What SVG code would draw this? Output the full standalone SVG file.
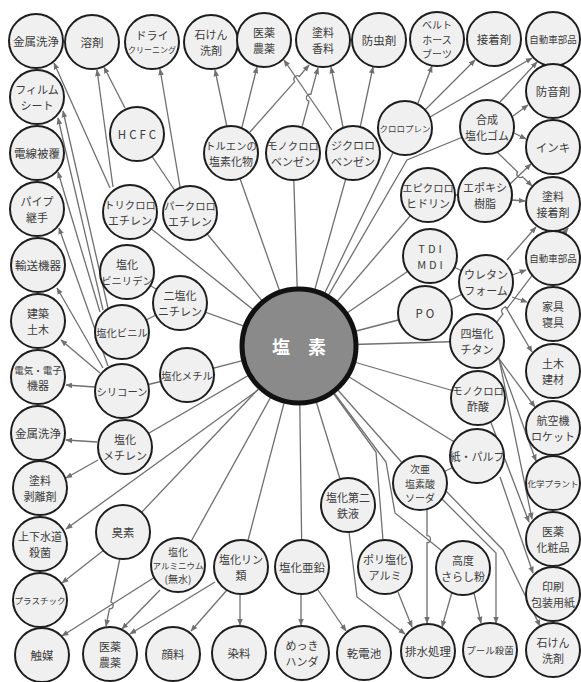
<svg xmlns="http://www.w3.org/2000/svg" width="581" height="682" viewBox="0 0 581 682">
<style>
.n circle{fill:#f0f0f0;stroke:#1e1e1e;stroke-width:2}
.n text{font-family:"Noto Sans CJK JP","Noto Sans",sans-serif;font-size:11px;fill:#3c3c3c;text-anchor:middle;dominant-baseline:central}
.n text.s1{font-size:11.5px}
.n text.s105{font-size:10.3px}
.n text.s3{font-size:10px}
.n text.s9{font-size:9.5px}
.n text.s85{font-size:8.5px}
.n text.s8{font-size:8px}
.n text.sp{letter-spacing:3px}
.c line,.c path{stroke:#707070;stroke-width:1.3;fill:none}
.a{marker-end:url(#ah)}
</style>
<defs>
<marker id="ah" viewBox="0 0 10 10" refX="9" refY="5" markerWidth="7" markerHeight="7" markerUnits="userSpaceOnUse" orient="auto"><path d="M0,1 L10,5 L0,9 z" fill="#707070"/></marker>
</defs>
<rect width="581" height="682" fill="#fff"/>
<g id="connectors" class="c">
<line x1="299" y1="346" x2="130" y2="212"/>
<line x1="299" y1="346" x2="190" y2="213"/>
<line x1="299" y1="346" x2="231" y2="153"/>
<line x1="299" y1="346" x2="293" y2="153"/>
<line x1="299" y1="346" x2="353" y2="153"/>
<line x1="299" y1="346" x2="405" y2="128"/>
<path d="M299,346 L407,160 L487,127"/>
<line x1="299" y1="346" x2="428" y2="195"/>
<line x1="299" y1="346" x2="430" y2="256"/>
<line x1="299" y1="346" x2="425" y2="313"/>
<line x1="299" y1="346" x2="477" y2="341"/>
<line x1="299" y1="346" x2="478" y2="398"/>
<line x1="299" y1="346" x2="477" y2="456"/>
<line x1="299" y1="346" x2="420" y2="483"/>
<path d="M299,346 L386,462 L395,513 L463,568"/>
<path d="M299,346 L376,452 L383,540 L385,567"/>
<line x1="299" y1="346" x2="348" y2="505"/>
<line x1="299" y1="346" x2="302" y2="567"/>
<line x1="299" y1="346" x2="241" y2="567"/>
<line x1="299" y1="346" x2="178" y2="565"/>
<line x1="299" y1="346" x2="123" y2="532"/>
<line x1="299" y1="346" x2="125" y2="447"/>
<line x1="299" y1="346" x2="187" y2="375"/>
<line x1="299" y1="346" x2="180" y2="303"/>
<line x1="137" y1="134" x2="190" y2="213"/>
<line x1="187" y1="375" x2="122" y2="391"/>
<line x1="122" y1="332" x2="180" y2="303"/>
<line x1="127" y1="272" x2="180" y2="303"/>
<line x1="430" y1="256" x2="486" y2="282"/>
<line x1="425" y1="313" x2="486" y2="282"/>
<line x1="420" y1="483" x2="477" y2="456"/>
<line x1="428" y1="195" x2="485" y2="195"/>
<line class="a" x1="110" y1="188" x2="54" y2="63"/>
<line class="a" x1="113" y1="187" x2="97" y2="70"/>
<line class="a" x1="125" y1="108" x2="104" y2="67"/>
<line class="a" x1="180" y1="187" x2="160" y2="69"/>
<line class="a" x1="227" y1="127" x2="215" y2="70"/>
<line class="a" x1="242" y1="127" x2="257" y2="67"/>
<path class="a" d="M250,132 L294.7,81.6 A3.5,3.5 0 0 1 299.3,76.4 L309,65"/>
<path class="a" d="M302,127 L309,101.2 A3.5,3.5 0 0 1 310.8,94.4 L318,68"/>
<line class="a" x1="332" y1="130" x2="284" y2="60"/>
<line class="a" x1="343" y1="127" x2="331" y2="67"/>
<line class="a" x1="360" y1="128" x2="373" y2="67"/>
<line class="a" x1="418" y1="103" x2="432" y2="66"/>
<line class="a" x1="425" y1="110" x2="475" y2="60"/>
<line class="a" x1="430" y1="117" x2="532" y2="58"/>
<line class="a" x1="500" y1="102" x2="537" y2="62"/>
<line class="a" x1="513" y1="116" x2="528" y2="105"/>
<line class="a" x1="514" y1="133" x2="526" y2="139"/>
<path class="a" d="M497,152 L517.6,172 A3.5,3.5 0 0 0 522.6,176.8 L532,186"/>
<line class="a" x1="510" y1="184" x2="531" y2="164"/>
<line class="a" x1="512" y1="200" x2="525" y2="201"/>
<line class="a" x1="507" y1="260" x2="536" y2="227"/>
<line class="a" x1="512" y1="275" x2="526" y2="270"/>
<line class="a" x1="512" y1="297" x2="527" y2="302"/>
<line class="a" x1="505" y1="306" x2="532" y2="352"/>
<path class="a" d="M487,335 L503,313.9 A3.5,3.5 0 0 1 507.2,308.3 L568,228"/>
<line class="a" x1="494" y1="352" x2="535" y2="407"/>
<line class="a" x1="495" y1="348" x2="536" y2="461"/>
<line class="a" x1="497" y1="349" x2="532" y2="519"/>
<line class="a" x1="490" y1="420" x2="529" y2="522"/>
<line class="a" x1="500" y1="477" x2="533" y2="573"/>
<path class="a" d="M427,509 L427,535.7 A3.5,3.5 0 0 1 427,542.7 L427,623"/>
<path class="a" d="M440,497 L496,553 L496,623"/>
<path class="a" d="M446,491 L503,550 L540,626"/>
<line class="a" x1="452" y1="592" x2="442" y2="627"/>
<line class="a" x1="474" y1="593" x2="481" y2="623"/>
<line class="a" x1="398" y1="592" x2="412" y2="627"/>
<path class="a" d="M349,532 L357,597 L405,634"/>
<line class="a" x1="301" y1="595" x2="301" y2="625"/>
<line class="a" x1="318" y1="590" x2="346" y2="631"/>
<line class="a" x1="240" y1="595" x2="240" y2="625"/>
<line class="a" x1="227" y1="590" x2="191" y2="631"/>
<line class="a" x1="215" y1="582" x2="130" y2="634"/>
<line class="a" x1="160" y1="590" x2="122" y2="629"/>
<line class="a" x1="155" y1="577" x2="62" y2="636"/>
<path class="a" d="M120,558 L110.9,602 A3.5,3.5 0 0 1 109.5,608.8 L106,626"/>
<line class="a" x1="104" y1="550" x2="62" y2="583"/>
<line class="a" x1="258" y1="390" x2="66" y2="529"/>
<line class="a" x1="97" y1="442" x2="66" y2="440"/>
<line class="a" x1="98" y1="460" x2="66" y2="478"/>
<line class="a" x1="95" y1="387" x2="66" y2="385"/>
<line class="a" x1="100" y1="373" x2="61" y2="340"/>
<line class="a" x1="103" y1="368" x2="57" y2="288"/>
<line class="a" x1="108" y1="366" x2="59" y2="228"/>
<line class="a" x1="100" y1="312" x2="58" y2="172"/>
<line class="a" x1="103" y1="310" x2="58" y2="118"/>
<line class="a" x1="108" y1="308" x2="63" y2="111"/>
</g>
<g id="nodes">
<g id="n-kinzoku1" class="n"><circle cx="36" cy="41" r="27"/><text class="s1" x="36" y="41">金属洗浄</text></g>
<g id="n-youzai" class="n"><circle cx="92" cy="42" r="27"/><text class="s1" x="92" y="42">溶剤</text></g>
<g id="n-dry" class="n"><circle cx="152" cy="42" r="27"/><text x="152" y="34.5">ドライ</text><text class="s8" x="152" y="49.5">クリーニング</text></g>
<g id="n-sekken1" class="n"><circle cx="211" cy="42" r="27"/><text x="211" y="34">石けん</text><text x="211" y="50">洗剤</text></g>
<g id="n-iyaku1" class="n"><circle cx="264" cy="40" r="27"/><text x="264" y="32">医薬</text><text x="264" y="48">農薬</text></g>
<g id="n-toryo1" class="n"><circle cx="323" cy="40" r="27"/><text x="323" y="32">塗料</text><text x="323" y="48">香料</text></g>
<g id="n-bouchu" class="n"><circle cx="379" cy="40" r="27"/><text class="s1" x="379" y="40">防虫剤</text></g>
<g id="n-belt" class="n"><circle cx="437" cy="39" r="27"/><text class="s3" x="437" y="24.5">ベルト</text><text class="s3" x="437" y="39">ホース</text><text class="s3" x="437" y="53.5">ブーツ</text></g>
<g id="n-setchaku" class="n"><circle cx="494" cy="39" r="27"/><text class="s1" x="494" y="39">接着剤</text></g>
<g id="n-jidousha1" class="n"><circle cx="553" cy="39" r="27"/><text class="s9" x="553" y="39">自動車部品</text></g>
<g id="n-boon" class="n"><circle cx="553" cy="91" r="27"/><text class="s1" x="553" y="91">防音剤</text></g>
<g id="n-inki" class="n"><circle cx="553" cy="147" r="27"/><text class="s1" x="553" y="147">インキ</text></g>
<g id="n-toryo2" class="n"><circle cx="553" cy="204" r="27"/><text x="553" y="196">塗料</text><text x="553" y="212">接着剤</text></g>
<g id="n-jidousha2" class="n"><circle cx="553" cy="258" r="27"/><text class="s9" x="553" y="258">自動車部品</text></g>
<g id="n-kagu" class="n"><circle cx="553" cy="314" r="27"/><text x="553" y="306">家具</text><text x="553" y="322">寝具</text></g>
<g id="n-doboku2" class="n"><circle cx="553" cy="371" r="27"/><text x="553" y="363">土木</text><text x="553" y="379">建材</text></g>
<g id="n-koukuu" class="n"><circle cx="553" cy="428" r="27"/><text x="553" y="420">航空機</text><text x="553" y="436">ロケット</text></g>
<g id="n-kagaku" class="n"><circle cx="553" cy="483" r="27"/><text class="s85" x="553" y="483">化学プラント</text></g>
<g id="n-iyaku2" class="n"><circle cx="553" cy="539" r="27"/><text x="553" y="531">医薬</text><text x="553" y="547">化粧品</text></g>
<g id="n-insatsu" class="n"><circle cx="553" cy="594" r="27"/><text x="553" y="586">印刷</text><text x="553" y="602">包装用紙</text></g>
<g id="n-sekken2" class="n"><circle cx="553" cy="650" r="27"/><text x="553" y="642">石けん</text><text x="553" y="658">洗剤</text></g>
<g id="n-pool" class="n"><circle cx="490" cy="650" r="27"/><text class="s9" x="490" y="650">プール殺菌</text></g>
<g id="n-haisui" class="n"><circle cx="428" cy="651" r="27"/><text class="s1" x="428" y="651">排水処理</text></g>
<g id="n-kandenchi" class="n"><circle cx="364" cy="653" r="27"/><text class="s1" x="364" y="653">乾電池</text></g>
<g id="n-mekki" class="n"><circle cx="302" cy="653" r="27"/><text x="302" y="645">めっき</text><text x="302" y="661">ハンダ</text></g>
<g id="n-senryo" class="n"><circle cx="239" cy="653" r="27"/><text class="s1" x="239" y="653">染料</text></g>
<g id="n-ganryo" class="n"><circle cx="173" cy="654" r="27"/><text class="s1" x="173" y="654">顔料</text></g>
<g id="n-iyaku3" class="n"><circle cx="110" cy="654" r="27"/><text x="110" y="646">医薬</text><text x="110" y="662">農薬</text></g>
<g id="n-shokubai" class="n"><circle cx="42" cy="655" r="27"/><text class="s1" x="42" y="655">触媒</text></g>
<g id="n-plastic" class="n"><circle cx="40" cy="600" r="27"/><text class="s85" x="40" y="600">プラスチック</text></g>
<g id="n-jouge" class="n"><circle cx="40" cy="544" r="27"/><text x="40" y="536">上下水道</text><text x="40" y="552">殺菌</text></g>
<g id="n-hakuri" class="n"><circle cx="40" cy="488" r="27"/><text x="40" y="480">塗料</text><text x="40" y="496">剥離剤</text></g>
<g id="n-kinzoku2" class="n"><circle cx="38" cy="433" r="27"/><text class="s1" x="38" y="433">金属洗浄</text></g>
<g id="n-denki" class="n"><circle cx="38" cy="377" r="27"/><text class="s9" x="38" y="369.5">電気・電子</text><text x="38" y="384.5">機器</text></g>
<g id="n-kenchiku" class="n"><circle cx="38" cy="321" r="27"/><text x="38" y="313">建築</text><text x="38" y="329">土木</text></g>
<g id="n-yusou" class="n"><circle cx="38" cy="265" r="27"/><text class="s1" x="38" y="265">輸送機器</text></g>
<g id="n-pipe" class="n"><circle cx="37" cy="209" r="27"/><text x="37" y="201">パイプ</text><text x="37" y="217">継手</text></g>
<g id="n-densen" class="n"><circle cx="37" cy="153" r="27"/><text class="s1" x="37" y="153">電線被覆</text></g>
<g id="n-film" class="n"><circle cx="37" cy="97" r="27"/><text x="37" y="89">フィルム</text><text x="37" y="105">シート</text></g>
<g id="n-hcfc" class="n"><circle cx="137" cy="134" r="27"/><text class="s1 sp" x="138.5" y="134">HCFC</text></g>
<g id="n-trichlo" class="n"><circle cx="130" cy="212" r="27"/><text class="s105" x="130" y="204">トリクロロ</text><text x="130" y="220">エチレン</text></g>
<g id="n-perchlo" class="n"><circle cx="190" cy="213" r="27"/><text class="s105" x="190" y="205">パークロロ</text><text x="190" y="221">エチレン</text></g>
<g id="n-toluene" class="n"><circle cx="231" cy="153" r="27"/><text class="s105" x="231" y="145">トルエンの</text><text x="231" y="161">塩素化物</text></g>
<g id="n-monobz" class="n"><circle cx="293" cy="153" r="27"/><text class="s105" x="293" y="145">モノクロロ</text><text x="293" y="161">ベンゼン</text></g>
<g id="n-dibz" class="n"><circle cx="353" cy="153" r="27"/><text x="353" y="145">ジクロロ</text><text x="353" y="161">ベンゼン</text></g>
<g id="n-chloroprene" class="n"><circle cx="405" cy="128" r="27"/><text class="s85" x="405" y="128">クロロプレン</text></g>
<g id="n-gosei" class="n"><circle cx="487" cy="127" r="27"/><text x="487" y="119">合成</text><text x="487" y="135">塩化ゴム</text></g>
<g id="n-epichlo" class="n"><circle cx="428" cy="195" r="27"/><text class="s105" x="428" y="187">エピクロロ</text><text x="428" y="203">ヒドリン</text></g>
<g id="n-epoxy" class="n"><circle cx="485" cy="195" r="27"/><text x="485" y="187">エポキシ</text><text x="485" y="203">樹脂</text></g>
<g id="n-tdi" class="n"><circle cx="430" cy="256" r="27"/><text class="sp" x="431.5" y="248">TDI</text><text class="sp" x="431.5" y="264">MDI</text></g>
<g id="n-urethane" class="n"><circle cx="486" cy="282" r="27"/><text x="486" y="274">ウレタン</text><text x="486" y="290">フォーム</text></g>
<g id="n-po" class="n"><circle cx="425" cy="313" r="27"/><text class="s1 sp" x="426.5" y="313">PO</text></g>
<g id="n-ticl4" class="n"><circle cx="477" cy="341" r="27"/><text x="477" y="333">四塩化</text><text x="477" y="349">チタン</text></g>
<g id="n-monoacetic" class="n"><circle cx="478" cy="398" r="27"/><text class="s105" x="478" y="390">モノクロロ</text><text x="478" y="406">酢酸</text></g>
<g id="n-paper" class="n"><circle cx="477" cy="456" r="27"/><text x="477" y="456">紙・パルプ</text></g>
<g id="n-jia" class="n"><circle cx="420" cy="483" r="27"/><text class="s3" x="420" y="468.5">次亜</text><text class="s3" x="420" y="483">塩素酸</text><text class="s3" x="420" y="497.5">ソーダ</text></g>
<g id="n-koudo" class="n"><circle cx="463" cy="568" r="27"/><text x="463" y="560">高度</text><text x="463" y="576">さらし粉</text></g>
<g id="n-poly" class="n"><circle cx="385" cy="567" r="27"/><text x="385" y="559">ポリ塩化</text><text x="385" y="575">アルミ</text></g>
<g id="n-fecl3" class="n"><circle cx="348" cy="505" r="27"/><text x="348" y="497">塩化第二</text><text x="348" y="513">鉄液</text></g>
<g id="n-zncl2" class="n"><circle cx="302" cy="567" r="27"/><text class="s1" x="302" y="567">塩化亜鉛</text></g>
<g id="n-pcl" class="n"><circle cx="241" cy="567" r="27"/><text x="241" y="559">塩化リン</text><text x="241" y="575">類</text></g>
<g id="n-alcl3" class="n"><circle cx="178" cy="565" r="27"/><text class="s3" x="178" y="551.5">塩化</text><text class="s85" x="178" y="565">アルミニウム</text><text class="s3" x="178" y="578.5">(無水)</text></g>
<g id="n-bromine" class="n"><circle cx="123" cy="532" r="27"/><text class="s1" x="123" y="532">臭素</text></g>
<g id="n-ch2cl2" class="n"><circle cx="125" cy="447" r="27"/><text x="125" y="439">塩化</text><text x="125" y="455">メチレン</text></g>
<g id="n-silicone" class="n"><circle cx="122" cy="391" r="27"/><text class="s105" x="122" y="391">シリコーン</text></g>
<g id="n-ch3cl" class="n"><circle cx="187" cy="375" r="27"/><text class="s105" x="187" y="375">塩化メチル</text></g>
<g id="n-pvc" class="n"><circle cx="122" cy="332" r="27"/><text class="s105" x="122" y="332">塩化ビニル</text></g>
<g id="n-edc" class="n"><circle cx="180" cy="303" r="27"/><text x="180" y="295">二塩化</text><text x="180" y="311">ニチレン</text></g>
<g id="n-pvdc" class="n"><circle cx="127" cy="272" r="27"/><text x="127" y="264">塩化</text><text class="s105" x="127" y="280">ビニリデン</text></g>
<g id="n-chlorine"><circle cx="299" cy="346" r="57" fill="#8a8a8a" stroke="#111" stroke-width="5"/><text x="299" y="346" font-family="'Noto Sans CJK JP',sans-serif" font-size="18" font-weight="bold" fill="#fff" text-anchor="middle" dominant-baseline="central">塩　素</text></g>
</g>
</svg>
